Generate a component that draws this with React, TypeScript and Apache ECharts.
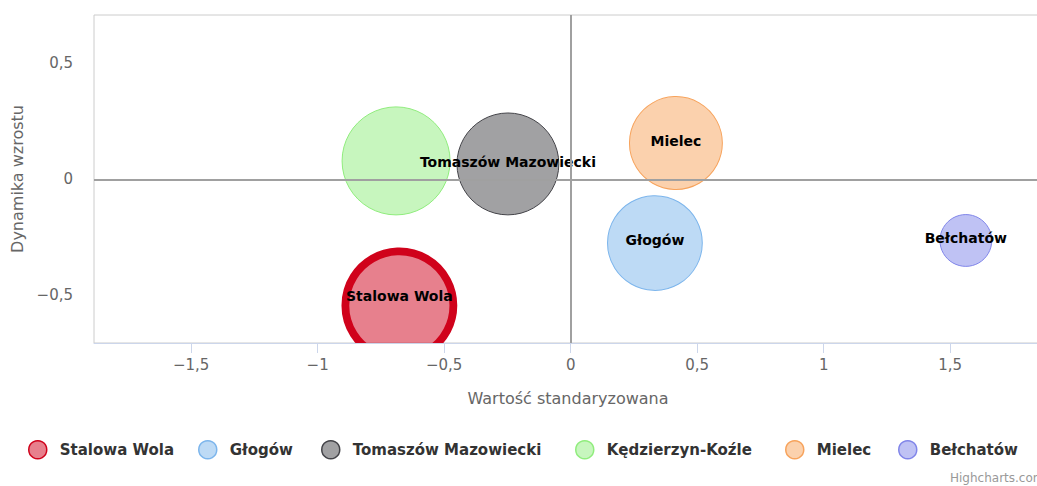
import React, { useEffect, useRef } from "react";
import * as echarts from "echarts";

const names = ["Stalowa Wola", "Głogów", "Tomaszów Mazowiecki", "Kędzierzyn-Koźle", "Mielec", "Bełchatów"];
const xValues = [-0.677, 0.333, -0.248, -0.69, 0.416, 1.562];
const yValues = [-0.543, -0.274, 0.067, 0.08, 0.157, -0.263];
const zValues = [100, 77, 89, 100, 74, 23];
const showLabel = [true, true, true, false, true, true];
const xTicks = [-1.5, -1, -0.5, 0, 0.5, 1, 1.5];
const yTicks = [-0.5, 0, 0.5];

const strokes = ["#d0021b", "#7cb5ec", "#434348", "#90ed7d", "#f7a35c", "#8085e9"];
const fills = [
  "rgba(208,2,27,0.5)",
  "rgba(124,181,236,0.5)",
  "rgba(67,67,72,0.5)",
  "rgba(144,237,125,0.5)",
  "rgba(247,163,92,0.5)",
  "rgba(128,133,233,0.5)",
];
const borderWidths = [7.8, 1, 1, 1, 1, 1];
const labelOffsets = [[0, -9], [0, -3], [0, -2], [0, -2], [0, -2], [0, -2]];
const legendCenters = [40, 210, 333, 587, 797, 910];

const FONT = "DejaVu Sans";
const fmt = (v: number) => String(v).replace(".", ",").replace("-", "\u2212");

export default function App() {
  const ref = useRef<HTMLDivElement>(null);
  useEffect(() => {
    if (!ref.current) return;
    const chart = echarts.init(ref.current, null, { renderer: "svg" });
    const series: any[] = names.map((n, i) => ({
      type: "scatter",
      name: n,
      z: 2,
      data: [[xValues[i], yValues[i], zValues[i]]],
      symbolSize: (v: number[]) => 108 * Math.sqrt(v[2] / 100),
      itemStyle: { color: fills[i], borderColor: strokes[i], borderWidth: borderWidths[i], opacity: 1 },
      label: {
        show: showLabel[i],
        position: "inside",
        offset: labelOffsets[i],
        formatter: n,
        color: "#000",
        fontFamily: FONT,
        fontWeight: "bold",
        fontSize: 14,
      },
      emphasis: { disabled: true },
    }));
    series.push({
      type: "scatter",
      name: "zero",
      z: 1,
      data: [],
      silent: true,
      markLine: {
        silent: true,
        symbol: "none",
        label: { show: false },
        lineStyle: { color: "#a0a0a0", width: 2, type: "solid" },
        emphasis: { disabled: true },
        data: [{ xAxis: 0 }, { yAxis: 0 }],
      },
    });
    const legends = names.map((n, i) => ({
      data: [n],
      left: legendCenters[i] - 17,
      top: 435,
      itemWidth: 34,
      itemHeight: 18,
      icon: "circle",
      z: 10,
      selectedMode: false,
      itemStyle: { borderWidth: 1.5 },
      textStyle: { fontFamily: FONT, fontWeight: "bold", fontSize: 15, color: "#333" },
    }));
    chart.setOption({
      animation: false,
      backgroundColor: "#fff",
      textStyle: { fontFamily: FONT },
      grid: {
        left: 94,
        top: 15,
        width: 948,
        height: 328,
        outerBoundsMode: "none",
        containLabel: false,
        show: true,
        borderColor: "#cccccc",
        borderWidth: 1,
        backgroundColor: "transparent",
      },
      xAxis: {
        type: "value",
        min: -1.884,
        max: 1.863,
        z: 10,
        name: "Wartość standaryzowana",
        nameLocation: "middle",
        nameGap: 47,
        nameTextStyle: { color: "#666", fontSize: 16, fontFamily: FONT },
        axisLine: { show: true, onZero: false, lineStyle: { color: "#ccd6eb", width: 1 } },
        axisTick: { show: true, length: 10, lineStyle: { color: "#ccd6eb" }, customValues: xTicks },
        axisLabel: { color: "#666", fontSize: 15, margin: 14, customValues: xTicks, formatter: fmt },
        splitLine: { show: false },
      },
      yAxis: {
        type: "value",
        min: -0.705,
        max: 0.709,
        z: 10,
        name: "Dynamika wzrostu",
        nameLocation: "middle",
        nameGap: 62,
        nameTextStyle: { color: "#666", fontSize: 16, fontFamily: FONT },
        axisLine: { show: false, onZero: false },
        axisTick: { show: false },
        axisLabel: { color: "#666", fontSize: 15, margin: 21, customValues: yTicks, formatter: fmt },
        splitLine: { show: false },
      },
      legend: legends,
      graphic: [
        { type: "rect", z: 3, shape: { x: 300, y: 344, width: 220, height: 40 }, style: { fill: "#fff" }, silent: true },
        {
          type: "text",
          z: 10,
          x: 950,
          y: 472,
          style: { text: "Highcharts.com", fill: "#999", font: "12px 'DejaVu Sans'" },
        },
      ],
      series,
    });
    return () => chart.dispose();
  }, []);
  return (
    <div
      ref={ref}
      style={{ position: "absolute", left: 0, top: 0, width: 1037, height: 486 }}
    />
  );
}
